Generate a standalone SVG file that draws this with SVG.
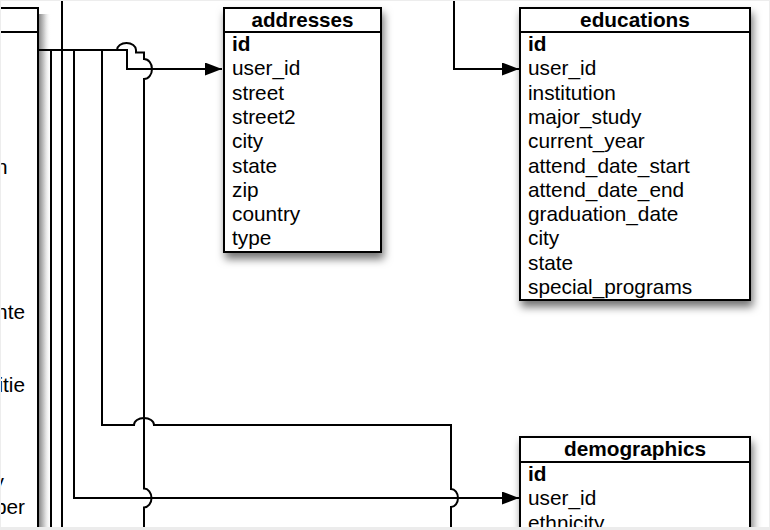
<svg xmlns="http://www.w3.org/2000/svg" width="770" height="530" viewBox="0 0 770 530">
<defs>
<filter id="sh" x="-20%" y="-20%" width="150%" height="150%">
<feDropShadow dx="2" dy="6" stdDeviation="4" flood-color="#000" flood-opacity="0.55"/>
</filter>
<linearGradient id="lg" x1="0" y1="0" x2="1" y2="0">
<stop offset="0" stop-color="#8a8a8a"/>
<stop offset="0.45" stop-color="#cfcfcf"/>
<stop offset="1" stop-color="#fff" stop-opacity="0"/>
</linearGradient>
<marker id="arr" markerUnits="userSpaceOnUse" markerWidth="17" markerHeight="13" refX="17" refY="6.5" orient="auto">
<path d="M0,0 L17,6.5 L0,13 z" fill="#000"/>
</marker>
<style>
.box{fill:#fff;stroke:#000;stroke-width:2}
.hl{stroke:#000;stroke-width:2}
.t{font-family:"Liberation Sans",Helvetica,Arial,sans-serif;font-size:20.8px;fill:#000}
.b{font-weight:bold}
.c{fill:none;stroke:#000;stroke-width:2}
</style>
</defs>
<rect width="770" height="530" fill="#fff"/>

<g id="left-table">
<rect x="39" y="14" width="12" height="516" fill="url(#lg)"/>
<rect class="box" x="-150" y="8" width="188" height="640"/>
<line class="hl" x1="-150" y1="32" x2="38" y2="32"/>
<text class="t" x="7.5" y="173.5" text-anchor="end">n</text>
<text class="t" x="25" y="319.3" text-anchor="end">nte</text>
<text class="t" x="25" y="392.2" text-anchor="end">itie</text>
<text class="t" x="4" y="489.4" text-anchor="end">y</text>
<text class="t" x="25" y="513.7" text-anchor="end">ber</text>
</g>

<g id="connectors">
<path class="c" d="M62,0 V530"/>
<path class="c" d="M38,50 H51 V530"/>
<path class="c" d="M38,50 H127 V69 H222" marker-end="url(#arr)"/>
<path class="c" d="M38,50 H117 A9.5,7 0 0 1 136,50 V52.5 H144 V59 A8,10 0 0 1 144,79 V488.5 A7.5,9.5 0 0 1 144,507.5 V530"/>
<path class="c" d="M38,50 H102 V425 H134 A10,7 0 0 1 154,425 H451 V489 A7,9 0 0 1 451,507 V530"/>
<path class="c" d="M38,50 H74 V498 H519" marker-end="url(#arr)"/>
<path class="c" d="M454,0 V69 H519" marker-end="url(#arr)"/>
</g>

<g id="addresses">
<rect class="box" x="224" y="8" width="157" height="244" filter="url(#sh)"/>
<line class="hl" x1="224" y1="32" x2="381" y2="32"/>
<text class="t b" x="302.5" y="27" text-anchor="middle" textLength="102" lengthAdjust="spacingAndGlyphs">addresses</text>
<text class="t b" x="232" y="51">id</text>
<text class="t" x="232" y="75.3">user_id</text>
<text class="t" x="232" y="99.6">street</text>
<text class="t" x="232" y="123.9">street2</text>
<text class="t" x="232" y="148.2">city</text>
<text class="t" x="232" y="172.5">state</text>
<text class="t" x="232" y="196.8">zip</text>
<text class="t" x="232" y="221.1">country</text>
<text class="t" x="232" y="245.4">type</text>
</g>

<g id="educations">
<rect class="box" x="520" y="8" width="230" height="292" filter="url(#sh)"/>
<line class="hl" x1="520" y1="32" x2="750" y2="32"/>
<text class="t b" x="635" y="27" text-anchor="middle">educations</text>
<text class="t b" x="528" y="51">id</text>
<text class="t" x="528" y="75.3">user_id</text>
<text class="t" x="528" y="99.6">institution</text>
<text class="t" x="528" y="123.9">major_study</text>
<text class="t" x="528" y="148.2">current_year</text>
<text class="t" x="528" y="172.5">attend_date_start</text>
<text class="t" x="528" y="196.8">attend_date_end</text>
<text class="t" x="528" y="221.1">graduation_date</text>
<text class="t" x="528" y="245.4">city</text>
<text class="t" x="528" y="269.7">state</text>
<text class="t" x="528" y="294">special_programs</text>
</g>

<g id="demographics">
<rect class="box" x="520" y="437" width="230" height="140" filter="url(#sh)"/>
<line class="hl" x1="520" y1="462" x2="750" y2="462"/>
<text class="t b" x="635" y="456" text-anchor="middle">demographics</text>
<text class="t b" x="528" y="481">id</text>
<text class="t" x="528" y="505.3">user_id</text>
<text class="t" x="528" y="529.6">ethnicity</text>
</g>

<rect x="0.5" y="0.5" width="769" height="529" fill="none" stroke="#ededed" stroke-width="1"/>
<rect x="0" y="527" width="770" height="3" fill="#ececec"/>
</svg>
